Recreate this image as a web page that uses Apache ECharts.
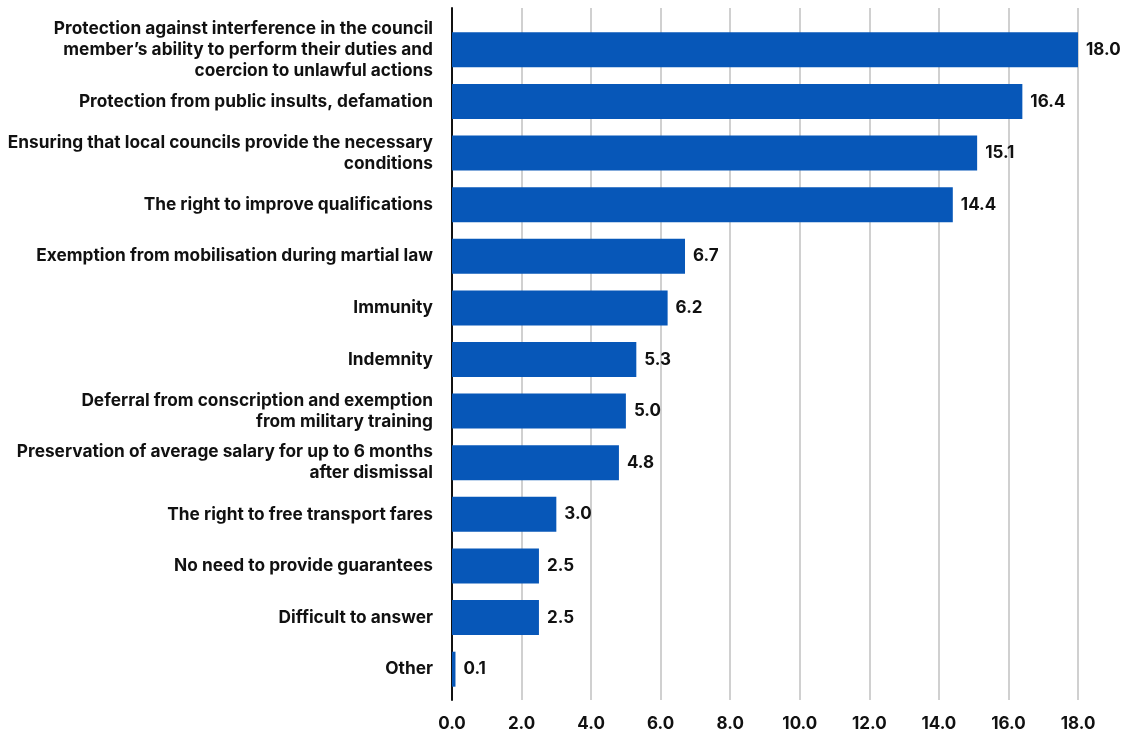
<!DOCTYPE html>
<html>
<head>
<meta charset="utf-8">
<script src="https://cdn.jsdelivr.net/npm/echarts@6/dist/echarts.min.js"></script>
<style>
  html, body { margin: 0; padding: 0; background: #ffffff; }
  #chart { width: 1126px; height: 733px; }
</style>
</head>
<body>
<div id="chart"></div>
<script>
// Categories listed top to bottom
const categories = [
  "Protection against interference in the council\nmember’s ability to perform their duties and\ncoercion to unlawful actions",
  "Protection from public insults, defamation",
  "Ensuring that local councils provide the necessary\nconditions",
  "The right to improve qualifications",
  "Exemption from mobilisation during martial law",
  "Immunity",
  "Indemnity",
  "Deferral from conscription and exemption\nfrom military training",
  "Preservation of average salary for up to 6 months\nafter dismissal",
  "The right to free transport fares",
  "No need to provide guarantees",
  "Difficult to answer",
  "Other"
];
const values = [18.0, 16.4, 15.1, 14.4, 6.7, 6.2, 5.3, 5.0, 4.8, 3.0, 2.5, 2.5, 0.1];
const axisMin = 0, axisMax = 18, axisStep = 2;

const FONT = "Inter, 'Noto Sans', sans-serif";
const chart = echarts.init(document.getElementById('chart'), null, { renderer: 'canvas' });

chart.setOption({
  animation: false,
  backgroundColor: '#ffffff',
  grid: [
    // bars
    { left: 452, right: 48, top: 24, bottom: 38, containLabel: false },
    // background frame: gridlines, baseline and tick labels over the full height
    { left: 452, right: 48, top: 8, bottom: 33, containLabel: false }
  ],
  xAxis: [
    {
      gridIndex: 0, type: 'value',
      min: axisMin, max: axisMax, interval: axisStep,
      axisLine: { show: false }, axisTick: { show: false },
      splitLine: { show: false }, axisLabel: { show: false }
    },
    {
      gridIndex: 1, type: 'value',
      min: axisMin, max: axisMax, interval: axisStep,
      axisLine: { show: false }, axisTick: { show: false },
      splitLine: { show: true, lineStyle: { color: '#d0d0d0', width: 2 } },
      axisLabel: {
        margin: 15,
        color: '#111111',
        fontFamily: FONT, fontWeight: 'bold', fontSize: 17,
        formatter: v => v.toFixed(1)
      }
    }
  ],
  yAxis: [
    {
      gridIndex: 0, type: 'category',
      inverse: true,
      data: categories,
      axisLine: { show: false },
      axisTick: { show: false },
      axisLabel: {
        margin: 19,
        color: '#111111',
        fontFamily: FONT, fontWeight: 'bold', fontSize: 17.3,
        lineHeight: 21, align: 'right'
      }
    },
    {
      gridIndex: 1, type: 'value', min: 0, max: 1,
      axisLine: { show: true, lineStyle: { color: '#111111', width: 2 } },
      axisTick: { show: false }, axisLabel: { show: false }, splitLine: { show: false }
    }
  ],
  series: [{
    type: 'bar',
    xAxisIndex: 0, yAxisIndex: 0,
    data: values,
    barWidth: 35,
    z: 3,
    itemStyle: { color: '#0757b8' },
    label: {
      show: true, position: 'right', distance: 8,
      color: '#111111',
      fontFamily: FONT, fontWeight: 'bold', fontSize: 17,
      formatter: p => p.value.toFixed(1)
    }
  }]
});
</script>
</body>
</html>
